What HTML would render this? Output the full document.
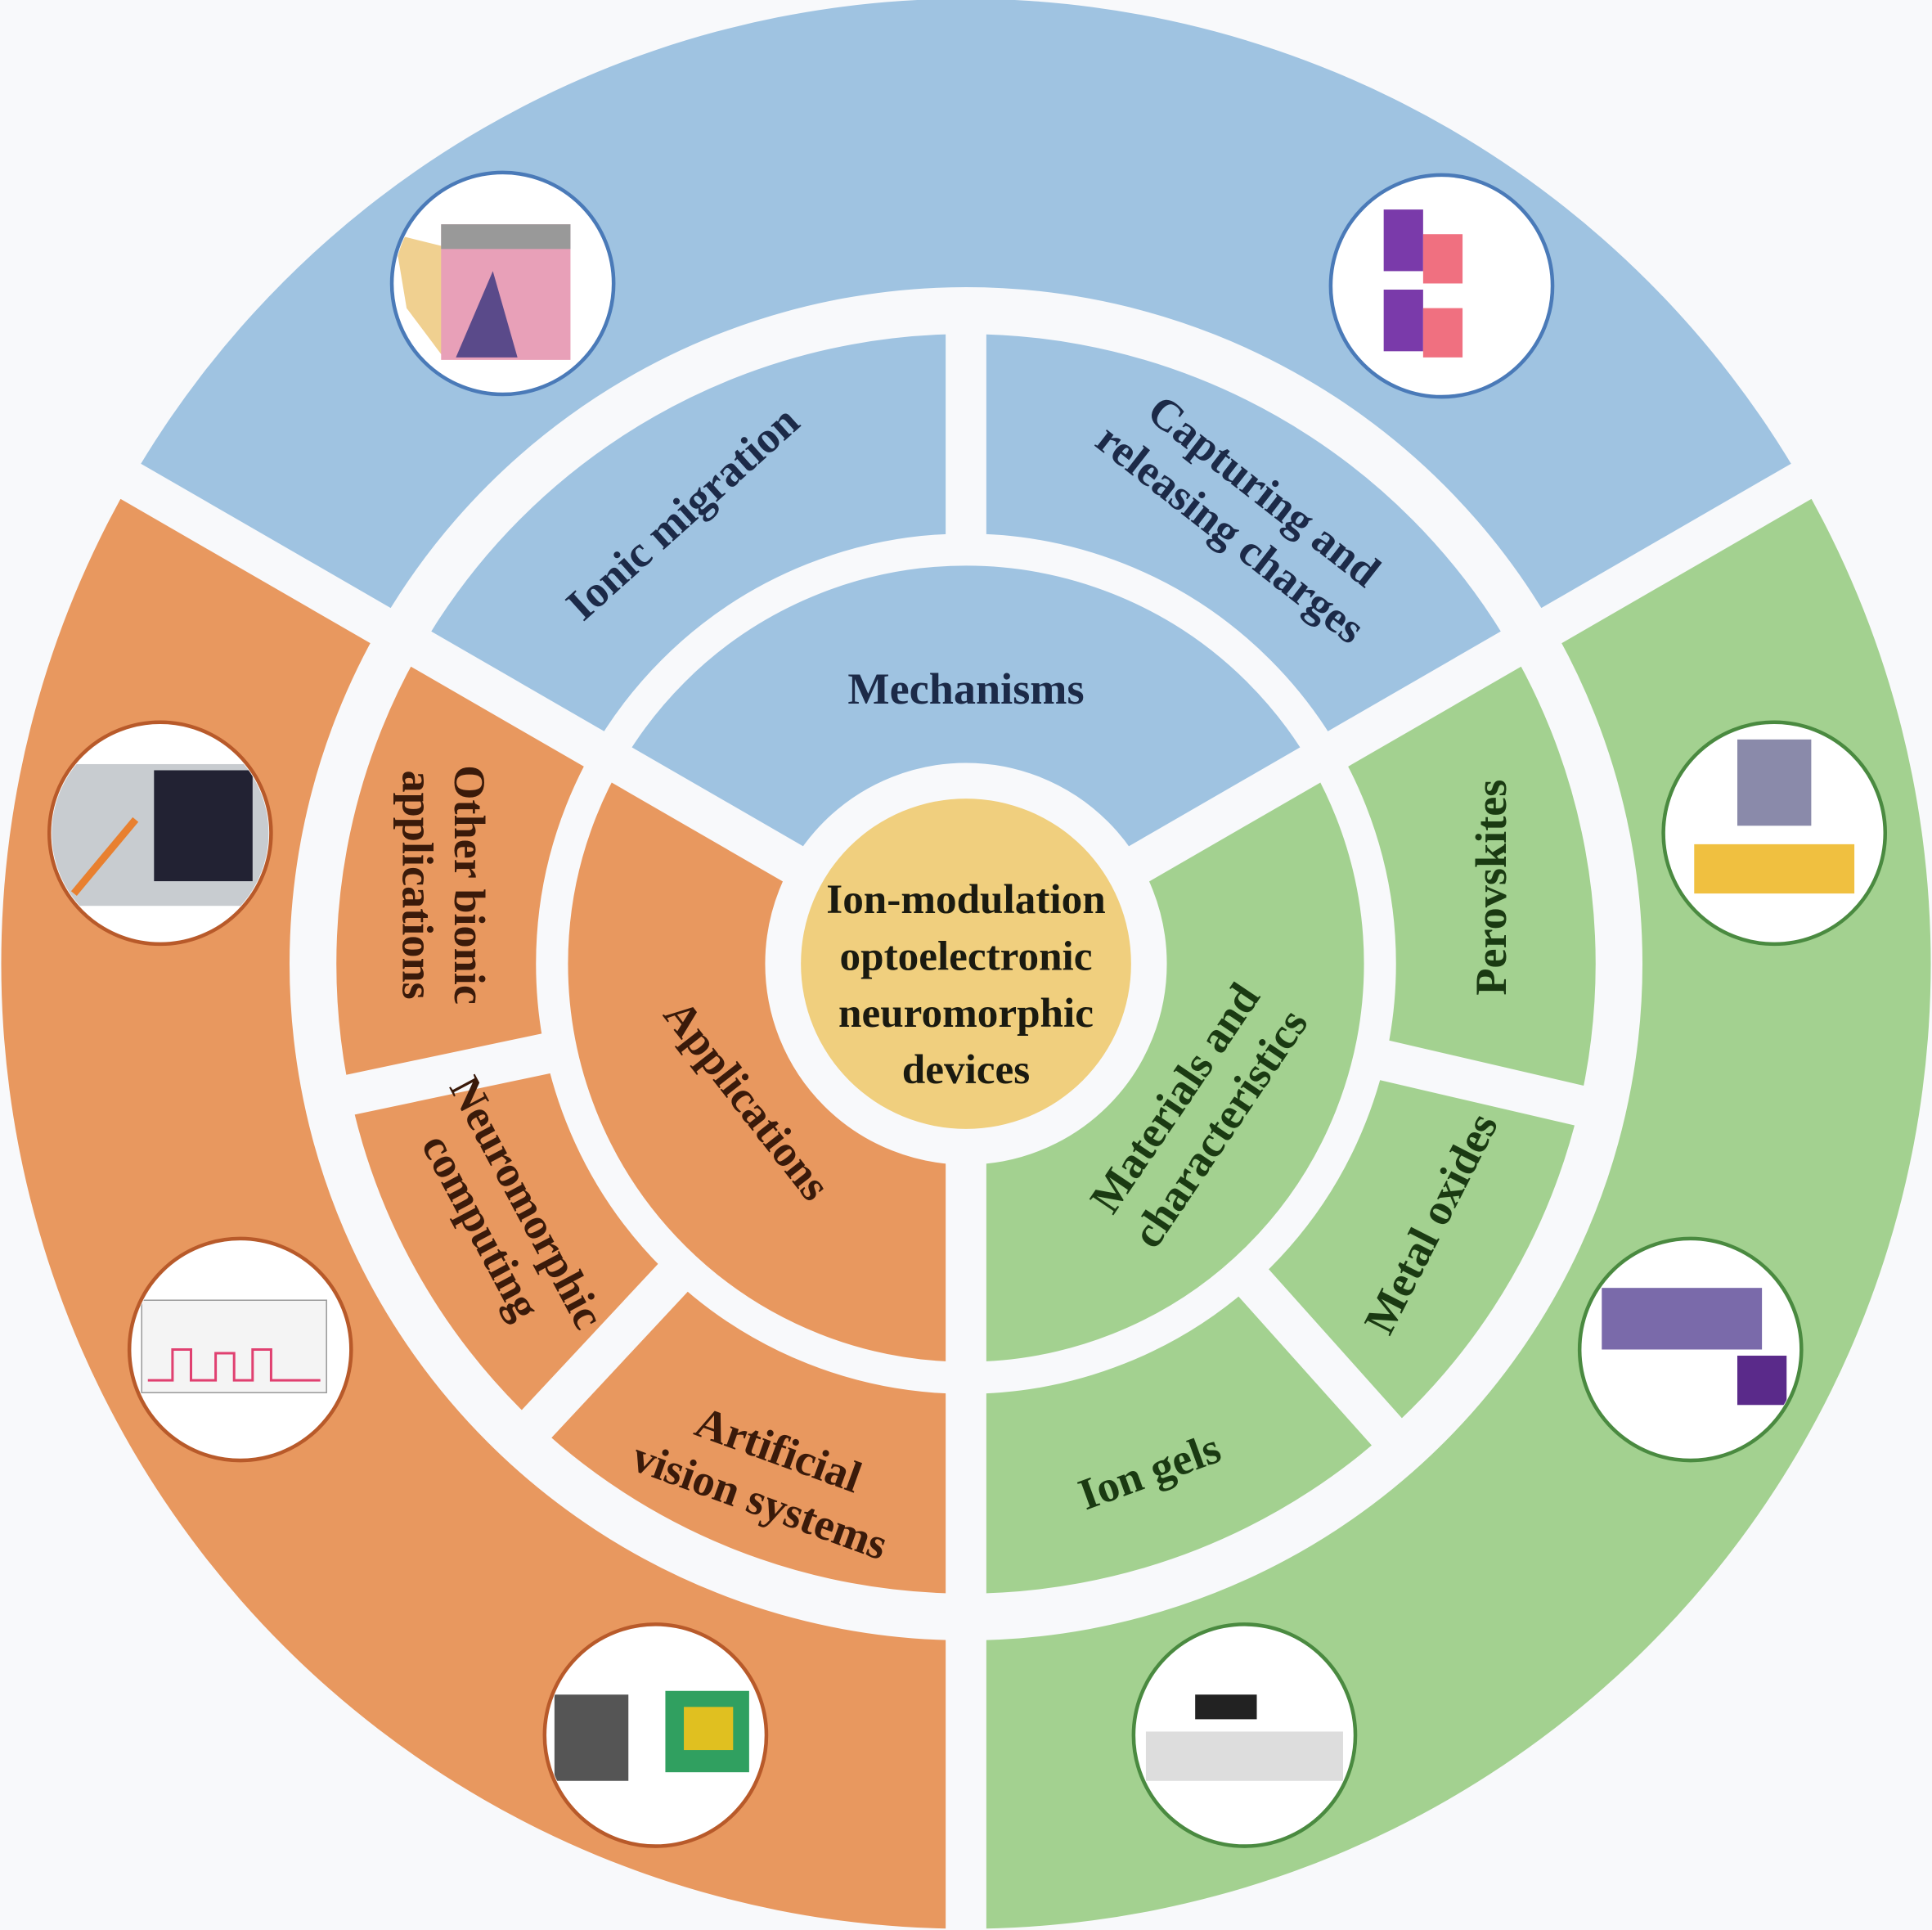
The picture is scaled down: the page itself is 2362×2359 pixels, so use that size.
<!DOCTYPE html>
<html><head><meta charset="utf-8"><style>
html,body{margin:0;padding:0;background:#f8f9fb;}
svg{display:block;}
text{font-family:"Liberation Serif",serif;font-weight:bold;text-anchor:middle;}
</style></head><body>
<svg width="2362" height="2359" viewBox="0 0 1568 1566" xmlns="http://www.w3.org/2000/svg">
<defs>
<clipPath id="c1"><circle cx="408" cy="230" r="88"/></clipPath>
<clipPath id="c2"><circle cx="1170" cy="232" r="88"/></clipPath>
<clipPath id="c3"><circle cx="1440" cy="676" r="88"/></clipPath>
<clipPath id="c4"><circle cx="1372" cy="1095" r="88"/></clipPath>
<clipPath id="c5"><circle cx="1010" cy="1408" r="88"/></clipPath>
<clipPath id="c6"><circle cx="532" cy="1408" r="88"/></clipPath>
<clipPath id="c7"><circle cx="195" cy="1095" r="88"/></clipPath>
<clipPath id="c8"><circle cx="130" cy="676" r="88"/></clipPath>
</defs>
<rect width="1568" height="1566" fill="#f8f9fb"/>
<path d="M784 782 L105.9 390.5 A783 783 0 0 1 1462.1 390.5 Z" fill="#9fc3e1"/>
<path d="M784 782 L784 1565 A783 783 0 0 1 105.9 390.5 Z" fill="#e8985f"/>
<path d="M784 782 L1462.1 390.5 A783 783 0 0 1 784 1565 Z" fill="#a3d190"/>
<g fill="none" stroke="#f8f9fb">
<circle cx="784" cy="782" r="530" stroke-width="38"/>
<circle cx="784" cy="782" r="336" stroke-width="26"/>
<circle cx="784" cy="782" r="148" stroke-width="30"/>
</g>
<g stroke="#f8f9fb" stroke-width="33">
<line x1="784" y1="782" x2="100" y2="387"/>
<line x1="784" y1="782" x2="1468" y2="387"/>
<line x1="784" y1="782" x2="784" y2="1580"/>
<line x1="784" y1="448" x2="784" y2="250"/>
<line x1="461" y1="851" x2="262" y2="893"/>
<line x1="559" y1="1023" x2="420" y2="1172"/>
<line x1="1105" y1="856" x2="1303" y2="902"/>
<line x1="1005" y1="1027" x2="1141" y2="1179"/>
</g>
<circle cx="784" cy="782" r="134" fill="#f0cf7e"/>
<g fill="#1a1a10" font-size="34">
<text x="784" y="741">Ion-modulation</text>
<text x="784" y="787">optoelectronic</text>
<text x="784" y="833">neuromorphic</text>
<text x="784" y="879">devices</text>
</g>
<g font-size="36">
<text x="784" y="571" fill="#1c2a48">Mechanisms</text>
<text transform="translate(562,425) rotate(-42)" fill="#1c2a48">Ionic migration</text>
<g transform="translate(1005,425) rotate(38)" fill="#1c2a48"><text y="-22">Capturing and</text><text y="22">releasing charges</text></g>
<text transform="translate(597,900) rotate(52)" fill="#3a1a0a">Applications</text>
<g transform="translate(970,902) rotate(-56)" fill="#1a3a12"><text y="-8">Materials and</text><text y="36">characteristics</text></g>
<g transform="translate(357,718) rotate(90)" fill="#3a1a0a"><text y="-12">Other bionic</text><text y="30">applications</text></g>
<g transform="translate(410,985) rotate(62)" fill="#3a1a0a"><text y="-8">Neuromorphic</text><text y="34">computing</text></g>
<g transform="translate(625,1195) rotate(20)" fill="#3a1a0a"><text y="-8">Artificial</text><text y="36">vision systems</text></g>
<text transform="translate(1222,720) rotate(-90)" fill="#1a3a12">Perovskites</text>
<text transform="translate(1172,998) rotate(-63)" fill="#1a3a12">Metal oxides</text>
<text transform="translate(937,1205) rotate(-20)" fill="#1a3a12">Ion gels</text>
</g>
<g fill="#ffffff">
<circle cx="408" cy="230" r="90"/><circle cx="1170" cy="232" r="90"/><circle cx="1440" cy="676" r="90"/>
<circle cx="1372" cy="1095" r="90"/><circle cx="1010" cy="1408" r="90"/><circle cx="532" cy="1408" r="90"/>
<circle cx="195" cy="1095" r="90"/><circle cx="130" cy="676" r="90"/>
</g>
<g clip-path="url(#c1)"><path d="M320 190 L360 200 L360 290 L330 250 Z" fill="#f0d090"/><rect x="358" y="182" width="105" height="110" fill="#e8a0b8"/><rect x="358" y="182" width="105" height="20" fill="#999"/><path d="M370 290 L400 220 L420 290 Z" fill="#5a4a8a"/></g>
<g clip-path="url(#c2)"><rect x="1123" y="170" width="32" height="50" fill="#7a3aaa"/><rect x="1155" y="190" width="32" height="40" fill="#f07080"/><rect x="1123" y="235" width="32" height="50" fill="#7a3aaa"/><rect x="1155" y="250" width="32" height="40" fill="#f07080"/></g>
<g clip-path="url(#c3)"><rect x="1375" y="685" width="130" height="40" fill="#f0c040"/><rect x="1410" y="600" width="60" height="70" fill="#8a8aaa"/></g>
<g clip-path="url(#c4)"><rect x="1300" y="1045" width="130" height="50" fill="#7a6aaa"/><rect x="1410" y="1100" width="40" height="40" fill="#5a2a8a"/></g>
<g clip-path="url(#c5)"><rect x="970" y="1375" width="50" height="20" fill="#222"/><rect x="930" y="1405" width="160" height="40" fill="#ddd"/></g>
<g clip-path="url(#c6)"><rect x="450" y="1375" width="60" height="70" fill="#555"/><rect x="540" y="1372" width="68" height="66" fill="#30a060"/><rect x="555" y="1385" width="40" height="35" fill="#e0c020"/></g>
<g clip-path="url(#c7)"><rect x="115" y="1055" width="150" height="75" fill="#f4f4f4" stroke="#999"/><path d="M120 1120 L140 1120 L140 1095 L155 1095 L155 1120 L175 1120 L175 1098 L190 1098 L190 1120 L205 1120 L205 1095 L220 1095 L220 1120 L260 1120" fill="none" stroke="#e04070" stroke-width="2"/></g>
<g clip-path="url(#c8)"><rect x="40" y="620" width="180" height="115" fill="#c8ccd0"/><rect x="125" y="625" width="80" height="90" fill="#223"/><path d="M60 725 L110 665" stroke="#e88030" stroke-width="6"/></g>
<g stroke-width="3" fill="none">
<circle cx="408" cy="230" r="90" stroke="#4a7ab8"/>
<circle cx="1170" cy="232" r="90" stroke="#4a7ab8"/>
<circle cx="1440" cy="676" r="90" stroke="#4a8a40"/>
<circle cx="1372" cy="1095" r="90" stroke="#4a8a40"/>
<circle cx="1010" cy="1408" r="90" stroke="#4a8a40"/>
<circle cx="532" cy="1408" r="90" stroke="#b85a2a"/>
<circle cx="195" cy="1095" r="90" stroke="#b85a2a"/>
<circle cx="130" cy="676" r="90" stroke="#b85a2a"/>
</g>
</svg>
</body></html>
